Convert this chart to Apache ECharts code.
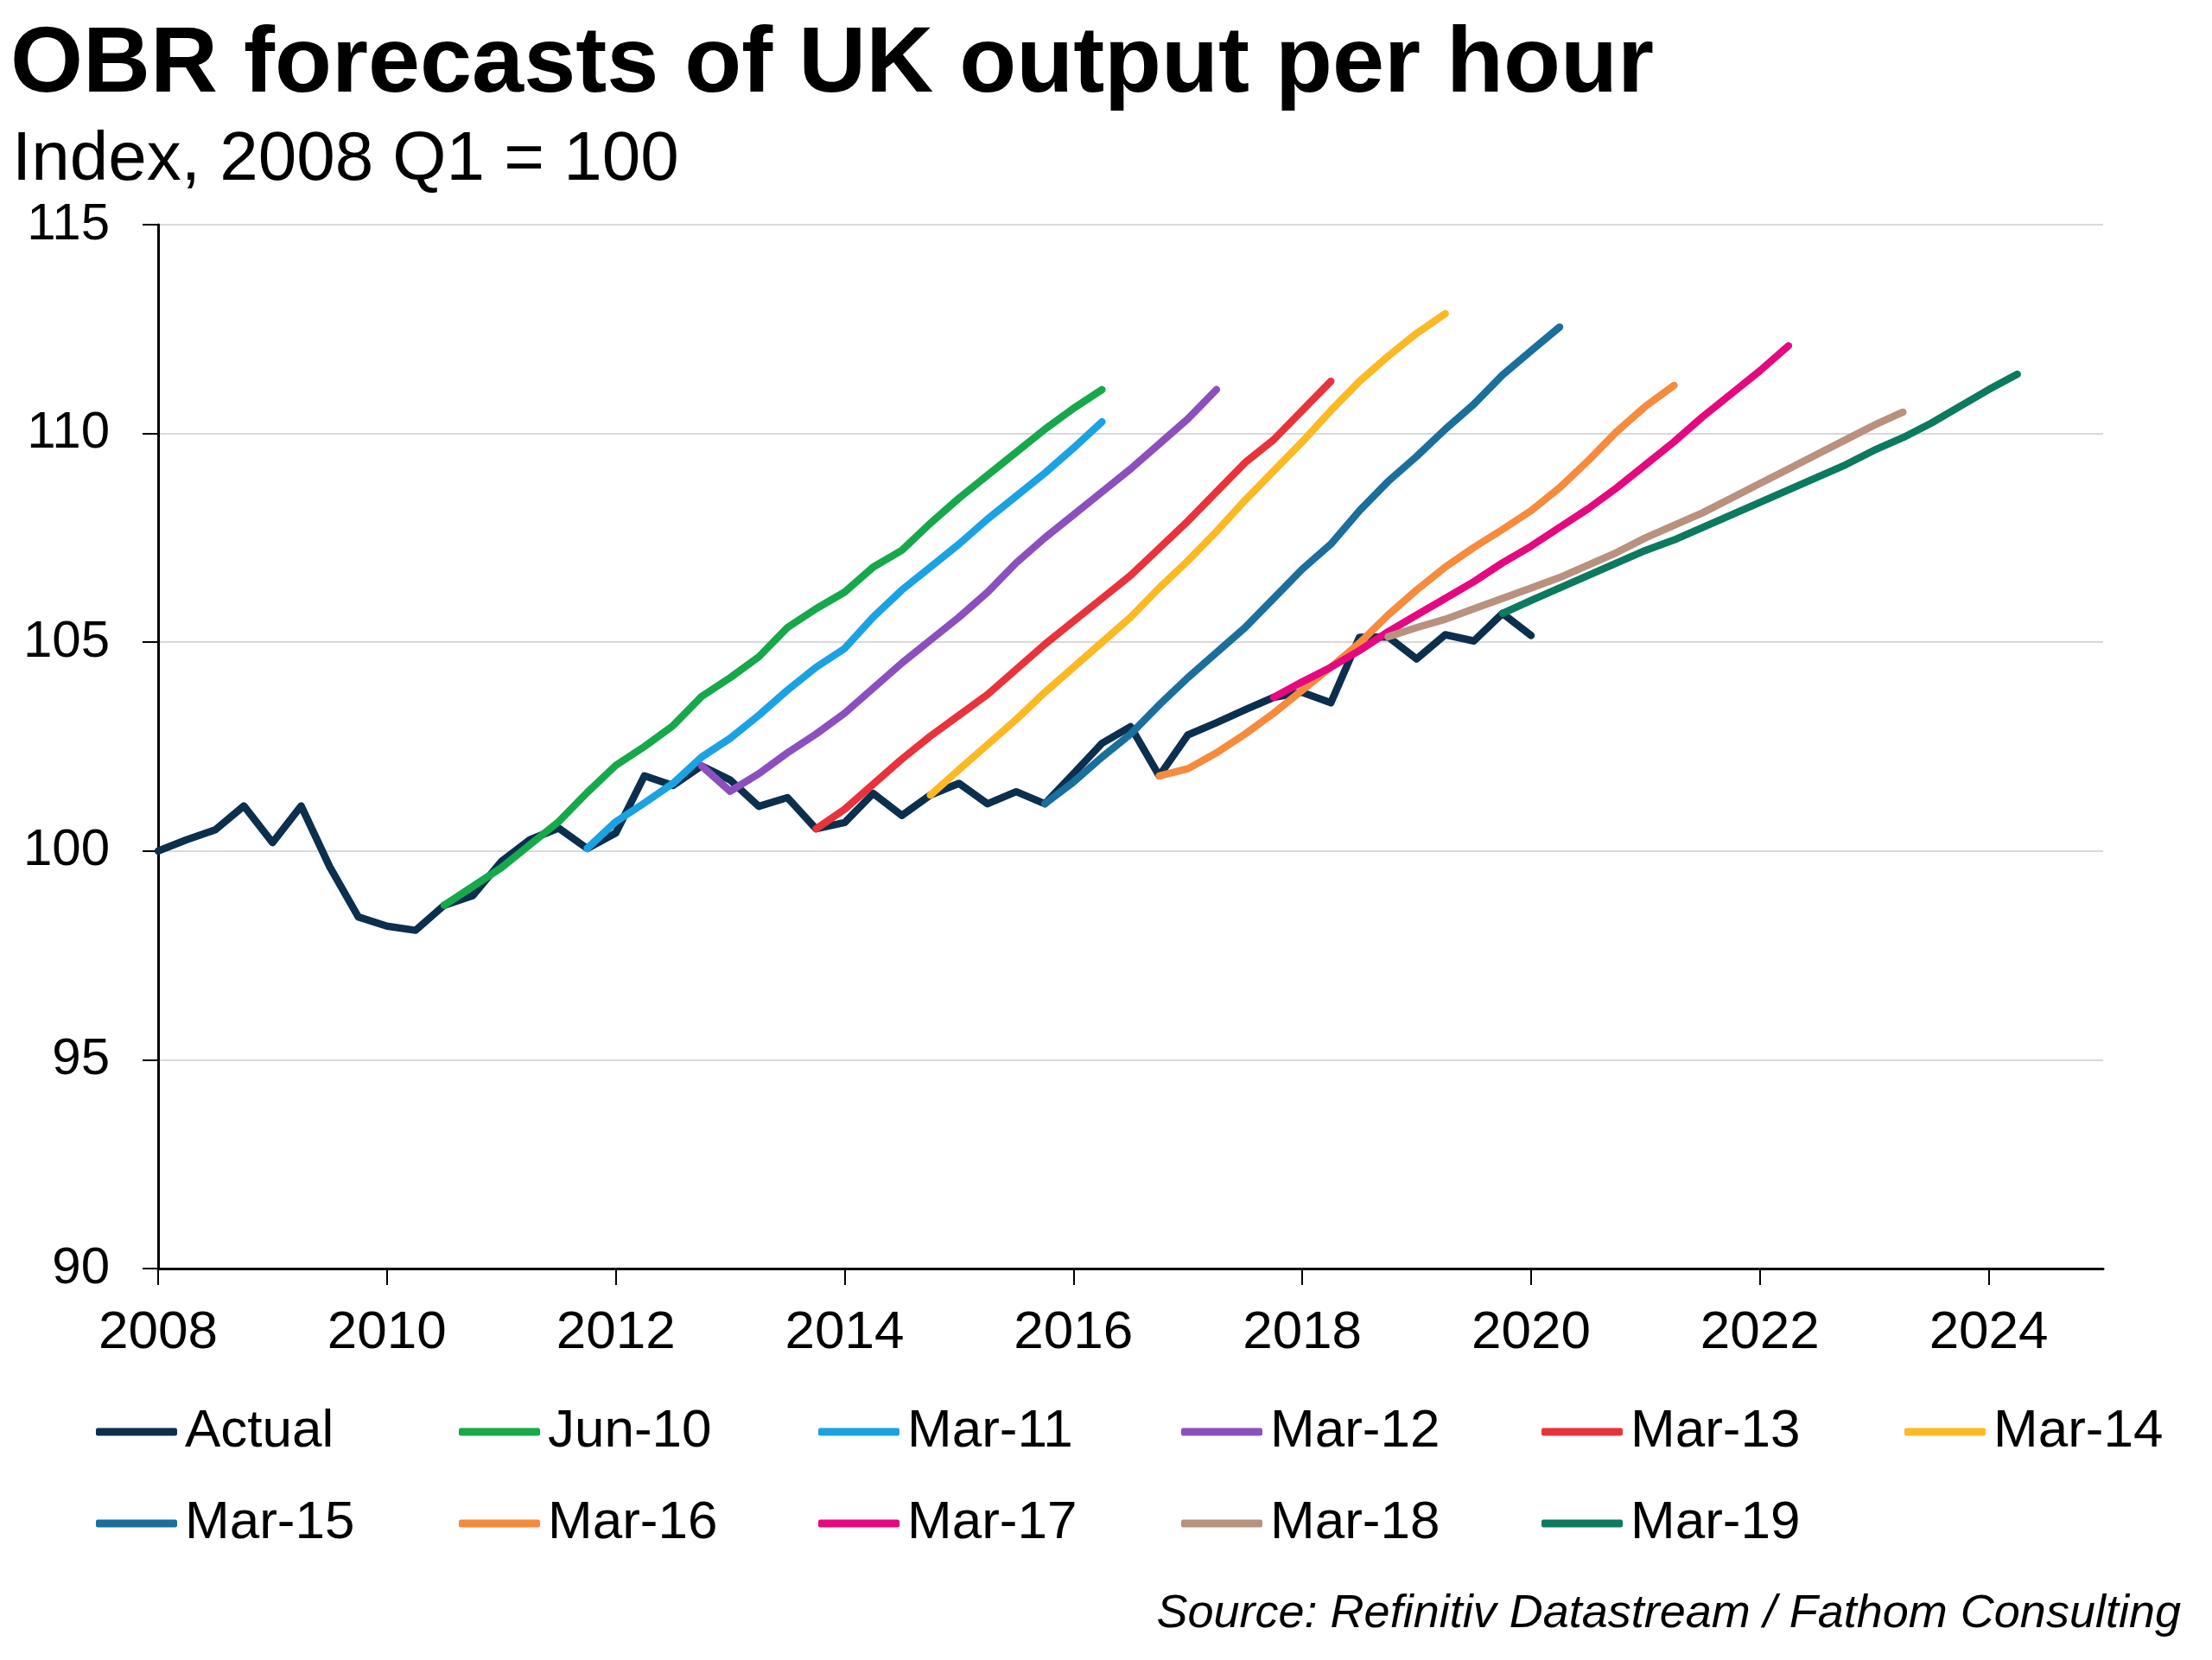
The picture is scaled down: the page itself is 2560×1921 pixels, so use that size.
<!DOCTYPE html>
<html><head><meta charset="utf-8">
<script src="https://cdn.jsdelivr.net/npm/echarts@6/dist/echarts.min.js"></script>
<style>html,body{margin:0;padding:0;background:#fff}#c{width:2560px;height:1921px}</style>
</head><body><div id="c"></div>
<script>
// ---- data ----
const titleText = 'OBR forecasts of UK output per hour';
const subtitleText = 'Index, 2008 Q1 = 100';
const sourceText = 'Source: Refinitiv Datastream / Fathom Consulting';
const xTickLabels = [2008, 2010, 2012, 2014, 2016, 2018, 2020, 2022, 2024];
const yTickLabels = [90, 95, 100, 105, 110, 115];

const seriesNames = ['Actual','Jun-10','Mar-11','Mar-12','Mar-13','Mar-14','Mar-15','Mar-16','Mar-17','Mar-18','Mar-19'];
const seriesStarts = ['2008Q1','2010Q3','2011Q4','2012Q4','2013Q4','2014Q4','2015Q4','2016Q4','2017Q4','2018Q4','2019Q4'];

const actual = [100, 100.27, 100.51, 101.08, 100.2, 101.08, 99.62, 98.42, 98.2, 98.1, 98.7, 98.93,
  99.75, 100.27, 100.55, 100.06, 100.43, 101.8, 101.57, 102.04, 101.7, 101.07, 101.28, 100.53,
  100.68, 101.38, 100.85, 101.34, 101.62, 101.13, 101.42, 101.13, 101.85, 102.58, 102.98, 101.8,
  102.78, 103.07, 103.38, 103.68, 103.8, 103.55, 105.12, 105.13, 104.6, 105.18, 105.03, 105.69, 105.16];
const jun10 = [98.7, 99.15, 99.6, 100.15, 100.7, 101.4, 102.05, 102.5, 103.0, 103.7, 104.15, 104.65,
  105.35, 105.8, 106.2, 106.8, 107.2, 107.85, 108.45, 109.0, 109.55, 110.1, 110.6, 111.05];
const mar11 = [100.06, 100.7, 101.15, 101.62, 102.25, 102.7, 103.25, 103.85, 104.4, 104.85, 105.6, 106.25,
  106.8, 107.35, 107.95, 108.5, 109.05, 109.65, 110.28];
const mar12 = [102.04, 101.43, 101.85, 102.35, 102.8, 103.3, 103.9, 104.5, 105.05, 105.6, 106.2, 106.9,
  107.5, 108.05, 108.6, 109.15, 109.75, 110.35, 111.05];
const mar13 = [100.53, 101.0, 101.6, 102.2, 102.75, 103.25, 103.75, 104.35, 104.95, 105.5, 106.05, 106.6,
  107.25, 107.9, 108.6, 109.3, 109.85, 110.55, 111.25];
const mar14 = [101.34, 101.95, 102.55, 103.15, 103.8, 104.4, 105.0, 105.6, 106.3, 106.95, 107.65, 108.4,
  109.1, 109.8, 110.55, 111.25, 111.85, 112.4, 112.87];
const mar15 = [101.13, 101.65, 102.25, 102.8, 103.5, 104.15, 104.75, 105.35, 106.05, 106.75, 107.35, 108.15,
  108.85, 109.45, 110.1, 110.7, 111.4, 111.98, 112.55];
const mar16 = [101.8, 101.97, 102.35, 102.8, 103.3, 103.85, 104.4, 104.98, 105.65, 106.25, 106.8, 107.27,
  107.7, 108.15, 108.7, 109.35, 110.05, 110.65, 111.15];
const mar17 = [103.68, 104.05, 104.4, 104.8, 105.25, 105.65, 106.05, 106.45, 106.9, 107.3, 107.75, 108.2,
  108.7, 109.25, 109.8, 110.4, 110.95, 111.5, 112.1];
const mar18 = [105.13, 105.35, 105.55, 105.8, 106.05, 106.3, 106.55, 106.85, 107.15, 107.5, 107.8, 108.1,
  108.45, 108.8, 109.15, 109.5, 109.85, 110.2, 110.51];
const mar19 = [105.69, 106.0, 106.3, 106.6, 106.9, 107.2, 107.45, 107.75, 108.05, 108.35, 108.65, 108.95,
  109.25, 109.6, 109.9, 110.25, 110.65, 111.05, 111.42];

const seriesValues = [actual, jun10, mar11, mar12, mar13, mar14, mar15, mar16, mar17, mar18, mar19];
const seriesColors = ['#0c2f4e','#16a84a','#1ba2e3','#8b50bd','#e8333b','#fdb924','#1a6f9c','#f68b3e','#e5087f','#b8917f','#0b7a5f'];

// ---- build ----
function qToYear(q) { const y = parseInt(q.slice(0,4),10); const n = parseInt(q.slice(5),10); return y + (n-1)/4; }
const FONT = "'Liberation Sans', Arial, Helvetica, sans-serif";

const series = seriesNames.map((name, i) => {
  const x0 = qToYear(seriesStarts[i]);
  return {
    name, type: 'line', symbol: 'none', showSymbol: false, smooth: false,
    color: seriesColors[i],
    lineStyle: { width: 8.5, color: seriesColors[i], cap: 'round', join: 'round' },
    emphasis: { disabled: true },
    data: seriesValues[i].map((v, k) => [x0 + k / 4, v]),
    z: 2 + i
  };
});

// legend: 6 columns in first row, 5 in second, fixed column pitch
const legendCols = [111, 531, 947, 1367, 1784, 2204];
const legendRows = [1626, 1732];
const legends = seriesNames.map((name, i) => ({
  data: [name],
  left: legendCols[i % 6], top: legendRows[Math.floor(i / 6)], padding: 0,
  icon: 'roundRect', itemWidth: 94, itemHeight: 9,
  textStyle: { fontFamily: FONT, fontSize: 62, color: '#000', padding: [0, 0, 0, 4] }
}));

const chart = echarts.init(document.getElementById('c'), null, { renderer: 'canvas', width: 2560, height: 1921 });
chart.setOption({
  animation: false,
  backgroundColor: '#fff',
  title: [
    { text: titleText, left: 12, top: 22, padding: 0,
      textStyle: { fontFamily: FONT, fontSize: 108, fontWeight: 'bold', color: '#000' } },
    { text: subtitleText, left: 14, top: 146, padding: 0,
      textStyle: { fontFamily: FONT, fontSize: 80, fontWeight: 'normal', color: '#000' } },
    { text: sourceText, right: 36, top: 1841, padding: 0,
      textStyle: { fontFamily: FONT, fontSize: 54, fontStyle: 'italic', fontWeight: 'normal', color: '#000' } }
  ],
  legend: legends,
  grid: { left: 183, right: 126, top: 260, bottom: 453, containLabel: false },
  xAxis: {
    type: 'value', min: 2008, max: 2025, interval: 2,
    axisLine: { show: true, lineStyle: { color: '#000', width: 3 } },
    axisTick: { show: true, inside: false, length: 19, lineStyle: { color: '#000', width: 2 },
      customValues: xTickLabels },
    axisLabel: { margin: 44, fontFamily: FONT, fontSize: 62, color: '#000',
      customValues: xTickLabels, formatter: v => String(Math.round(v)) },
    splitLine: { show: false }
  },
  yAxis: {
    type: 'value', min: 90, max: 115, interval: 5,
    axisLine: { show: true, lineStyle: { color: '#000', width: 3 } },
    axisTick: { show: true, inside: false, length: 18, lineStyle: { color: '#000', width: 2 } },
    axisLabel: { margin: 56, fontFamily: FONT, fontSize: 60, color: '#000',
      formatter: v => yTickLabels.includes(v) ? String(v) : '' },
    splitLine: { show: true, lineStyle: { color: '#d9d9d9', width: 2 } }
  },
  series
});
</script></body></html>
